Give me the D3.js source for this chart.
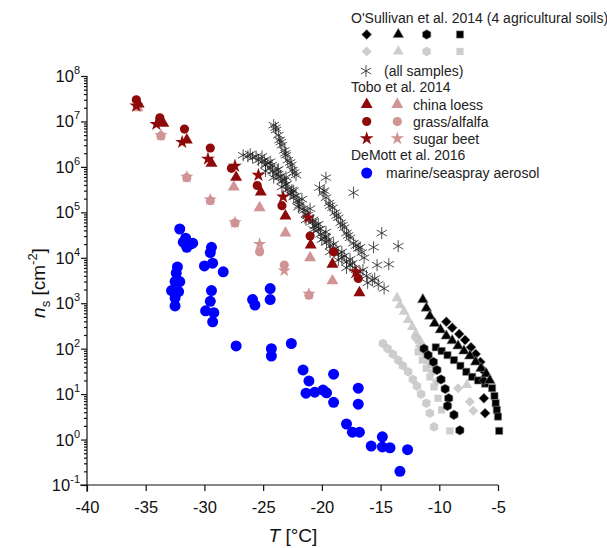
<!DOCTYPE html>
<html>
<head>
<meta charset="utf-8">
<script src="https://cdn.jsdelivr.net/npm/d3@7"></script>
<style>
body { margin: 0; background: #fff; }
svg { font-family: "Liberation Sans", Arial, sans-serif; }
</style>
</head>
<body>
<svg></svg>
<script>
// [T in °C, n_s in cm^-2]
let marineAerosol = [
    [-32.1, 4.3e4], [-31.8, 2.2e4], [-31.6, 2.7e4], [-31.2, 2.0e4], [-31.0, 2.1e4], [-31.5, 1.7e4],
    [-29.4, 1.7e4], [-29.5, 1.3e4], [-30.0, 6.6e3], [-29.3, 7.6e3], [-28.4, 4.9e3],
    [-32.3, 6.3e3], [-32.4, 4.6e3], [-32.5, 3.0e3], [-32.1, 3.0e3], [-32.8, 1.9e3], [-32.2, 1.8e3],
    [-32.5, 1.3e3], [-32.5, 870],
    [-29.4, 1.9e3], [-29.5, 1.1e3], [-29.9, 680], [-29.2, 620], [-29.3, 390],
    [-25.9, 1.2e3], [-25.7, 910], [-24.4, 2.1e3], [-24.4, 1.2e3],
    [-27.3, 115], [-24.3, 100], [-24.3, 69], [-22.6, 130],
    [-21.6, 34], [-21.1, 19.5], [-21.35, 10.5], [-20.6, 11], [-19.9, 12.3], [-19.6, 10.7],
    [-19.0, 27.5], [-19.0, 6.6], [-16.9, 13.5], [-16.9, 6.0],
    [-17.9, 2.2], [-17.4, 1.45], [-16.8, 1.45], [-14.85, 1.15],
    [-15.8, 0.72], [-14.85, 0.69], [-14.2, 0.66], [-12.7, 0.60], [-13.35, 0.20]
];

let toboLoessDark = [
    [-35.6, 2.4e7], [-33.5, 9.1e6], [-31.5, 3.9e6], [-29.4, 1.2e6], [-27.3, 5.9e5],
    [-25.2, 2.8e5], [-23.1, 8.3e4], [-20.95, 1.9e4], [-19.1, 7.2e3], [-16.8, 1.7e3]
];
let toboGrassDark = [
    [-35.8, 3.0e7], [-33.8, 1.2e7], [-31.7, 6.8e6], [-29.5, 2.6e6], [-27.7, 9.3e5],
    [-25.5, 3.9e5], [-23.4, 1.4e5], [-21.0, 3.0e4], [-19.0, 1.35e4], [-16.9, 3.5e3]
];
let toboBeetDark = [
    [-35.8, 2.2e7], [-34.1, 8.7e6], [-31.9, 3.5e6], [-29.7, 1.5e6], [-27.4, 1.05e6],
    [-25.4, 6.6e5], [-23.3, 2.2e5], [-21.15, 7.6e4], [-17.1, 4.9e3]
];
let toboLoessLight = [
    [-35.7, 2.0e7], [-27.5, 3.6e5], [-25.3, 1.26e5], [-23.1, 3.5e4], [-21.0, 1.0e4], [-19.1, 3.1e3]
];
let toboGrassLight = [
    [-33.7, 4.8e6], [-31.5, 5.8e5], [-29.5, 1.8e5], [-27.4, 5.8e4], [-25.3, 1.35e4],
    [-23.2, 6.9e3], [-21.1, 1.5e3]
];
let toboBeetLight = [
    [-33.7, 5.0e6], [-31.5, 6.0e5], [-29.5, 1.9e5], [-27.4, 6.0e4], [-25.3, 2.0e4],
    [-23.2, 5.2e3], [-21.1, 1.6e3]
];

let osAllSamples = [
    [-26.7, 1.8e6], [-26.3, 1.7e6], [-25.9, 1.6e6], [-25.4, 1.4e6], [-25.1, 1.3e6], [-24.8, 1.1e6],
    [-24.4, 9.5e5], [-24.2, 8.1e5], [-23.9, 6.9e5], [-23.65, 6.0e5], [-23.4, 4.9e5], [-23.1, 4.0e5],
    [-22.9, 3.2e5], [-22.6, 2.7e5], [-22.4, 2.2e5], [-22.1, 1.8e5], [-21.9, 1.45e5], [-21.6, 1.2e5],
    [-21.35, 9.1e4], [-21.1, 7.6e4], [-20.8, 6.2e4], [-20.6, 5.0e4], [-20.3, 4.1e4], [-20.1, 3.3e4],
    [-19.8, 2.7e4], [-19.6, 2.2e4], [-19.3, 1.8e4], [-19.0, 1.5e4], [-18.6, 1.2e4], [-18.3, 1.0e4],
    [-17.9, 8.1e3], [-17.6, 6.9e3], [-17.2, 5.9e3], [-16.75, 4.9e3], [-16.2, 4.0e3], [-15.7, 3.2e3],
    [-15.2, 2.6e3], [-14.7, 2.1e3],
    [-25.1, 1.7e6], [-24.4, 1.3e6], [-23.7, 8.9e5], [-23.05, 5.9e5], [-22.4, 3.0e5], [-21.7, 1.95e5],
    [-21.0, 1.2e5], [-20.3, 5.5e4], [-19.65, 3.7e4], [-19.0, 2.0e4], [-18.3, 1.35e4], [-17.6, 9.3e3],
    [-24.8, 8.1e5], [-24.1, 5.8e5], [-23.4, 3.6e5], [-22.7, 2.5e5], [-22.0, 1.3e5], [-21.35, 6.8e4],
    [-20.7, 4.2e4], [-20.0, 2.5e4], [-19.3, 1.35e4], [-18.6, 8.9e3], [-17.9, 6.0e3], [-17.1, 4.2e3],
    [-16.1, 2.8e3],
    [-26.1, 1.9e6], [-25.6, 1.7e6], [-24.9, 1.4e6], [-24.6, 1.2e6], [-24.25, 1.1e6], [-23.8, 8.5e5],
    [-23.5, 6.3e5], [-23.2, 5.1e5], [-23.0, 4.2e5], [-22.55, 3.1e5], [-22.2, 2.3e5], [-21.95, 1.7e5],
    [-21.5, 1.1e5], [-21.2, 8.7e4], [-20.75, 6.8e4], [-20.5, 5.2e4], [-20.15, 4.3e4], [-19.7, 3.0e4],
    [-19.4, 2.5e4], [-18.8, 1.6e4], [-18.1, 1.1e4], [-17.4, 7.6e3], [-16.5, 5.4e3], [-15.5, 3.5e3],
    [-24.1, 8.3e6], [-23.9, 6.5e6], [-23.7, 5.0e6], [-23.6, 3.9e6], [-23.4, 3.0e6], [-23.2, 2.3e6],
    [-23.05, 1.8e6], [-22.9, 1.4e6], [-22.6, 1.1e6], [-22.5, 8.5e5], [-22.2, 6.6e5],
    [-23.95, 7.3e6], [-23.5, 3.5e6], [-23.1, 2.0e6], [-22.7, 1.25e6], [-22.35, 7.5e5],
    [-20.2, 3.5e5], [-19.9, 2.7e5], [-19.65, 2.1e5], [-19.4, 1.6e5], [-19.1, 1.26e5], [-18.9, 9.8e4],
    [-18.6, 7.6e4], [-18.4, 5.9e4], [-18.1, 4.6e4], [-17.9, 3.5e4], [-17.6, 2.75e4], [-17.3, 2.1e4],
    [-16.9, 1.6e4],
    [-19.8, 3.0e5], [-19.3, 1.4e5], [-18.75, 8.5e4], [-18.25, 5.2e4], [-17.75, 3.1e4], [-17.1, 1.85e4],
    [-16.6, 1.3e4],
    [-19.65, 5.8e5], [-17.3, 2.7e5], [-14.9, 3.5e4], [-13.5, 1.8e4], [-15.6, 1.7e4], [-14.3, 7.2e3],
    [-16.4, 1.0e4], [-15.3, 6.9e3], [-16.75, 1.7e4]
];

let osTriangleBlack = [
    [-11.4, 1.2e3], [-11.1, 780], [-10.8, 520], [-10.4, 360], [-9.9, 260], [-9.4, 190], [-8.9, 150],
    [-8.4, 115], [-7.9, 89], [-7.4, 69], [-6.9, 51], [-6.45, 37], [-6.0, 28], [-5.7, 20]
];
let osDiamondBlack = [
    [-9.4, 390], [-8.9, 290], [-8.3, 210], [-7.8, 155], [-7.3, 107], [-6.9, 76], [-6.5, 51],
    [-6.3, 34], [-6.2, 20], [-6.2, 8.1], [-6.1, 3.8]
];
let osSquareBlack = [
    [-10.3, 107], [-9.8, 89], [-9.3, 72], [-8.75, 56], [-8.2, 42], [-7.7, 31], [-7.2, 24], [-6.7, 20],
    [-6.1, 17], [-5.5, 13.5], [-5.3, 9.1], [-5.2, 6.3], [-5.1, 4.5], [-5.0, 3.2], [-4.9, 1.55]
];
let osHexagonBlack = [
    [-11.3, 100], [-10.95, 72], [-10.5, 51], [-10.2, 34], [-9.85, 21], [-9.5, 13], [-9.2, 8.1],
    [-9.3, 5.5], [-8.75, 3.5], [-8.25, 1.6]
];
let osTriangleGray = [
    [-13.6, 1.3e3], [-13.35, 910], [-13.0, 650], [-12.65, 430], [-12.3, 300], [-12.0, 210],
    [-11.65, 150], [-11.3, 100], [-10.95, 69], [-10.6, 44], [-7.65, 16]
];
let osDiamondGray = [
    [-12.0, 170], [-11.65, 115], [-11.2, 76], [-10.9, 51], [-10.55, 31], [-10.2, 19],
    [-8.4, 13.5], [-7.4, 6.8], [-7.1, 4.3]
];
let osSquareGray = [
    [-11.8, 85], [-11.45, 56], [-11.1, 37], [-10.8, 24], [-10.45, 14.5], [-10.1, 8.1], [-9.8, 4.5], [-9.1, 1.55]
];
let osHexagonGray = [
    [-14.8, 130], [-14.4, 100], [-13.95, 76], [-13.5, 56], [-13.1, 42], [-12.65, 31], [-12.25, 21],
    [-11.9, 15], [-11.55, 10], [-11.1, 6.3], [-10.8, 3.8], [-10.45, 1.9]
];

let xTicks = [-40, -35, -30, -25, -20, -15, -10, -5];
let yExponents = [-1, 0, 1, 2, 3, 4, 5, 6, 7, 8];
let yMinorMantissas = [2, 3, 4, 5, 6, 7, 8, 9];

let darkRed = '#8e0a0a';
let lightRed = '#d09494';

let w = 607;
let h = 548;
let plotLeft = 87, plotRight = 498, plotTop = 76, plotBottom = 485;

let svg = d3.select('svg').attr('width', w).attr('height', h);

let xScale = d3.scaleLinear().domain([-40, -5]).range([plotLeft, plotRight]);
let yScale = d3.scaleLog().domain([1e-1, 1e8]).range([plotBottom, plotTop]);

let diamond = {
    draw(ctx, size) {
        let d = Math.sqrt(size / 2);
        ctx.moveTo(0, -d);
        ctx.lineTo(d, 0);
        ctx.lineTo(0, d);
        ctx.lineTo(-d, 0);
        ctx.closePath();
    }
};
let hexagon = {
    draw(ctx, size) {
        let r = Math.sqrt(size / (1.5 * Math.sqrt(3)));
        for (let i = 0; i < 6; i++) {
            let a = -Math.PI / 2 + i * Math.PI / 3;
            if (i === 0) ctx.moveTo(r * Math.cos(a), r * Math.sin(a));
            else ctx.lineTo(r * Math.cos(a), r * Math.sin(a));
        }
        ctx.closePath();
    }
};

let styles = {
    blue: { type: d3.symbolCircle, size: 95, fill: '#0000ff' },
    triDark: { type: d3.symbolTriangle, size: 62, fill: darkRed },
    cirDark: { type: d3.symbolCircle, size: 66, fill: darkRed },
    starDark: { type: d3.symbolStar, size: 60, fill: darkRed },
    triLight: { type: d3.symbolTriangle, size: 62, fill: lightRed },
    cirLight: { type: d3.symbolCircle, size: 66, fill: lightRed },
    starLight: { type: d3.symbolStar, size: 55, fill: lightRed },
    ast: { type: d3.symbolAsterisk, size: 100, stroke: '#222' },
    diaBlack: { type: diamond, size: 50, fill: '#000', stroke: '#888' },
    triBlack: { type: d3.symbolTriangle, size: 50, fill: '#000', stroke: '#888' },
    hexBlack: { type: hexagon, size: 60, fill: '#000', stroke: '#888' },
    sqBlack: { type: d3.symbolSquare, size: 52, fill: '#000', stroke: '#888' },
    diaGray: { type: diamond, size: 50, fill: '#c4c4c4', opacity: 0.85 },
    triGray: { type: d3.symbolTriangle, size: 50, fill: '#c4c4c4', opacity: 0.85 },
    hexGray: { type: hexagon, size: 60, fill: '#c4c4c4', opacity: 0.85 },
    sqGray: { type: d3.symbolSquare, size: 52, fill: '#c4c4c4', opacity: 0.85 }
};

let series = [
    { data: marineAerosol, style: styles.blue },
    { data: osAllSamples, style: styles.ast },
    { data: osHexagonGray, style: styles.hexGray },
    { data: osTriangleGray, style: styles.triGray },
    { data: osDiamondGray, style: styles.diaGray },
    { data: osSquareGray, style: styles.sqGray },
    { data: osHexagonBlack, style: styles.hexBlack },
    { data: osSquareBlack, style: styles.sqBlack },
    { data: osDiamondBlack, style: styles.diaBlack },
    { data: osTriangleBlack, style: styles.triBlack },
    { data: toboLoessLight, style: styles.triLight },
    { data: toboGrassLight, style: styles.cirLight },
    { data: toboBeetLight, style: styles.starLight },
    { data: toboLoessDark, style: styles.triDark },
    { data: toboGrassDark, style: styles.cirDark },
    { data: toboBeetDark, style: styles.starDark }
];

let applyStyle = (sel, s) => {
    sel.attr('d', d3.symbol().type(s.type).size(s.size))
        .attr('fill', s.fill || 'none')
        .attr('stroke', s.stroke || 'none')
        .attr('stroke-width', s.type === d3.symbolAsterisk ? 0.8 : 0.6)
        .attr('opacity', s.opacity || 1);
};

// axes
let xAxis = d3.axisBottom(xScale)
    .tickValues(xTicks)
    .tickSize(6)
    .tickSizeOuter(0)
    .tickPadding(10)
    .tickFormat(d => String(d));

let gx = svg.append('g')
    .attr('id', 'x-axis')
    .attr('transform', 'translate(0,' + plotBottom + ')')
    .call(xAxis);
gx.select('.domain').attr('d', 'M' + (plotLeft - 7) + ',0H' + plotRight);
gx.selectAll('text').attr('font-size', 16.5).attr('fill', '#111').attr('font-family', '"Liberation Sans", Arial, sans-serif');

let minorVals = [];
yExponents.slice(0, -1).forEach(e => {
    yMinorMantissas.forEach(m => minorVals.push(m * Math.pow(10, e)));
});

let gyMinor = svg.append('g')
    .attr('transform', 'translate(' + plotLeft + ',0)')
    .call(d3.axisLeft(yScale).tickValues(minorVals).tickSize(3).tickSizeOuter(0).tickFormat(''));
gyMinor.select('.domain').remove();

let gy = svg.append('g')
    .attr('id', 'y-axis')
    .attr('transform', 'translate(' + plotLeft + ',0)')
    .call(d3.axisLeft(yScale)
        .tickValues(yExponents.map(e => Math.pow(10, e)))
        .tickSize(6)
        .tickSizeOuter(0)
        .tickFormat(''));
gy.select('.domain').attr('d', 'M0,' + plotTop + 'V' + (plotBottom + 7));
svg.selectAll('.domain, .tick line').attr('stroke', '#111').attr('stroke-width', 1.2);

let yLabels = svg.append('g')
    .selectAll('text')
    .data(yExponents)
    .enter()
    .append('text')
    .attr('x', 80)
    .attr('y', e => yScale(Math.pow(10, e)) + 6)
    .attr('text-anchor', 'end')
    .attr('font-size', 16.5)
    .attr('fill', '#111');
yLabels.append('tspan').text('10');
yLabels.append('tspan').attr('dy', -8).attr('font-size', 11).text(e => String(e));

// axis titles
let xTitle = svg.append('text')
    .attr('x', 293)
    .attr('y', 542)
    .attr('text-anchor', 'middle')
    .attr('font-size', 19)
    .attr('fill', '#111');
xTitle.append('tspan').attr('font-style', 'italic').text('T');
xTitle.append('tspan').text(' [°C]');

let yTitle = svg.append('text')
    .attr('transform', 'translate(45,283) rotate(-90)')
    .attr('text-anchor', 'middle')
    .attr('font-size', 19)
    .attr('fill', '#111');
yTitle.append('tspan').attr('font-style', 'italic').text('n');
yTitle.append('tspan').attr('dy', 5).attr('font-size', 13).text('s');
yTitle.append('tspan').attr('dy', -5).text(' [cm');
yTitle.append('tspan').attr('dy', -8).attr('font-size', 13).text('-2');
yTitle.append('tspan').attr('dy', 8).text(']');

// data points
series.forEach(s => {
    svg.append('g')
        .selectAll('path')
        .data(s.data)
        .enter()
        .append('path')
        .attr('transform', d => 'translate(' + xScale(d[0]) + ',' + yScale(d[1]) + ')')
        .call(applyStyle, s.style);
});

// legend
let legendHeads = [
    { text: "O'Sullivan et al. 2014 (4 agricultural soils)", y: 23 },
    { text: 'Tobo et al. 2014', y: 92 },
    { text: 'DeMott et al. 2016', y: 160 }
];
let legendRows = [
    { marks: [[366.7, styles.diaBlack], [398.3, styles.triBlack], [426.7, styles.hexBlack], [460, styles.sqBlack]], y: 34.5 },
    { marks: [[366.7, styles.diaGray], [398.3, styles.triGray], [426.7, styles.hexGray], [460, styles.sqGray]], y: 51.5 },
    { marks: [[366, styles.ast]], y: 71, label: '(all samples)', lx: 384 },
    { marks: [[366.7, styles.triDark], [397.3, styles.triLight]], y: 104.5, label: 'china loess', lx: 413 },
    { marks: [[366.7, styles.cirDark], [397.3, styles.cirLight]], y: 121.5, label: 'grass/alfalfa', lx: 413 },
    { marks: [[366.7, styles.starDark], [397.3, styles.starLight]], y: 138.5, label: 'sugar beet', lx: 413 },
    { marks: [[366.7, styles.blue]], y: 173, label: 'marine/seaspray aerosol', lx: 386 }
];

let legend = svg.append('g').attr('font-size', 14).attr('fill', '#222');
legend.selectAll('text.head')
    .data(legendHeads)
    .enter()
    .append('text')
    .attr('class', 'head')
    .attr('x', 351)
    .attr('y', d => d.y)
    .text(d => d.text);

legendRows.forEach(row => {
    row.marks.forEach(m => {
        legend.append('path')
            .attr('transform', 'translate(' + m[0] + ',' + row.y + ')')
            .call(applyStyle, m[1]);
    });
    if (row.label) {
        legend.append('text')
            .attr('x', row.lx)
            .attr('y', row.y + 5)
            .text(row.label);
    }
});
</script>
</body>
</html>
